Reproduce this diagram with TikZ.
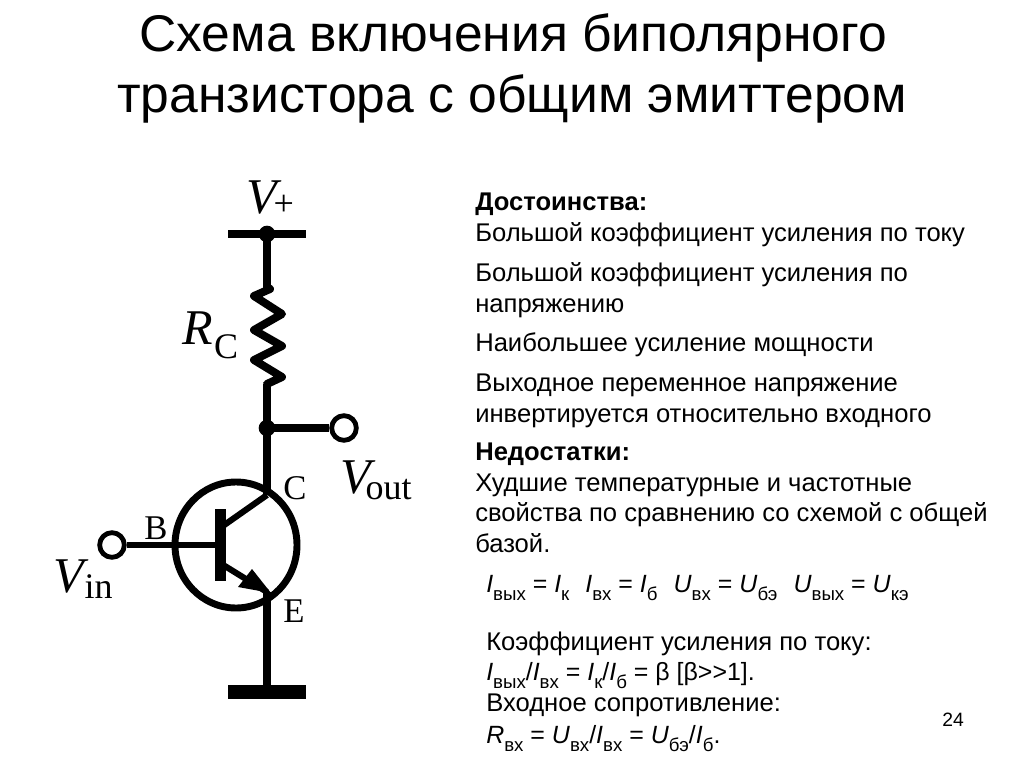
\documentclass[tikz,border=0pt]{standalone}
\usepackage{fontspec}
\usetikzlibrary{shapes.geometric}
\setmainfont{Liberation Sans}
\newfontfamily\ser{Liberation Serif}
\newcommand{\fsz}[1]{\fontsize{#1}{#1}\selectfont}
\newcommand{\lowtxt}[1]{\raisebox{-0.65ex}{\fsz{14}#1}}
\newcommand{\itx}[1]{\textit{#1}}
\newcommand{\lowsym}[1]{\raisebox{-5.2pt}{\fsz{27}#1}}
\tikzset{
  titletext/.style={anchor=base,inner sep=0pt,font=\fsz{38.7}},
  bodytext/.style={anchor=base west,inner sep=0pt,font=\fsz{19.2}},
  lowertext/.style={anchor=base west,inner sep=0pt,font=\fsz{18.7}},
  bigsym/.style={anchor=base west,inner sep=0pt,font=\ser\fsz{37.5}},
  pinsym/.style={anchor=base west,inner sep=0pt,font=\ser\fsz{26}},
  wire/.style={line width=6pt},
  thinwire/.style={line width=4.6pt},
  terminal/.style={circle,draw,line width=3.6pt,fill=white,minimum size=18.5pt,inner sep=0pt},
  junction/.style={circle,fill=black,minimum size=12.5pt,inner sep=0pt},
}
\begin{document}
\begin{tikzpicture}[x=0.75pt,y=-0.75pt]
\fill[white] (0,0) rectangle (1024,767);
\useasboundingbox (0,0) rectangle (1024,767);
% title
\node[titletext] (t1) at (513,52) {Схема включения биполярного};
\node[titletext] (t2) at (512,113) {транзистора с общим эмиттером};
% circuit coordinates
\coordinate (barL) at (228,234);
\coordinate (barR) at (306,234);
\coordinate (rtop) at (267,287);
\coordinate (rbot) at (267,384);
\coordinate (cpin) at (267,495);
\coordinate (epin) at (267,592);
\coordinate (gnd) at (267,692);
\coordinate (gndL) at (228,692);
\coordinate (gndR) at (306,692);
\coordinate (bbar) at (220.5,545);
\coordinate (bbarT) at (220.5,509);
\coordinate (bbarB) at (220.5,581);
\coordinate (cbase) at (220,528);
\coordinate (ebase) at (220,563);
\coordinate (etip) at (271,593);
\node[junction] (vplus) at (267,234) {};
\node[junction] (vmid) at (267,428) {};
\node[terminal] (vout) at (344,428) {};
\node[terminal] (vin) at (112,545) {};
\node[ellipse,draw,line width=5.2pt,minimum width=91.5pt,minimum height=94.5pt,inner sep=0pt] (q) at (236,545) {};
\draw[wire] (barL) -- (barR);
\draw[wire] (vplus.center) -- (rtop);
\draw[wire,line join=round,line cap=round] (rtop) -- (270,289) -- (254,296) -- (282,314) -- (254,330) -- (282,346) -- (254,360) -- (282,377) -- (rbot);
\draw[wire] (rbot) -- (vmid.center);
\draw[wire] (vmid.center) -- (cpin);
\draw[wire] (vmid.center) -- (vout);
\draw[thinwire] (vin) -- (bbar);
\draw[line width=8.2pt] (bbarT) -- (bbarB);
\draw[thinwire] (cbase) -- (cpin);
\draw[thinwire] (ebase) -- (epin);
\fill (etip) -- (252,569) -- (238,587) -- cycle;
\draw[wire] (epin) -- (gnd);
\draw[line width=11pt] (gndL) -- (gndR);
% circuit labels
\node[bigsym] (lvp) at (246,213) {\itx{V}\hspace{-6pt}\raisebox{-1.5pt}{\fsz{27}+}};
\node[bigsym] (lrc) at (182,344) {\itx{R}\hspace{1pt}\raisebox{-11pt}{\fsz{27}C}};
\node[bigsym] (lvo) at (340,493) {\itx{V}\hspace{-7.5pt}\lowsym{out}};
\node[bigsym] (lvi) at (53,592) {\itx{V}\hspace{-3pt}\lowsym{in}};
\node[pinsym] (lc) at (283,499) {C};
\node[pinsym] (lb) at (144,539) {B};
\node[pinsym] (le) at (283,622) {E};
% text
\node[bodytext] (a1) at (475,210) {\textbf{Достоинства:}};
\node[bodytext] (a2) at (475,241) {Большой коэффициент усиления по току};
\node[bodytext] (a3) at (475,281) {Большой коэффициент усиления по};
\node[bodytext] (a4) at (475,312) {напряжению};
\node[bodytext] (a5) at (475,351) {Наибольшее усиление мощности};
\node[bodytext] (a6) at (475,391) {Выходное переменное напряжение};
\node[bodytext] (a7) at (475,422) {инвертируется относительно входного};
\node[bodytext] (b1) at (475,460) {\textbf{Недостатки:}};
\node[bodytext] (b2) at (475,491) {Худшие температурные и частотные};
\node[bodytext] (b3) at (475,521) {свойства по сравнению со схемой с общей};
\node[bodytext] (b4) at (475,552) {базой.};
\node[lowertext] (f1) at (486,592) {\itx{I}\lowtxt{вых} = \itx{I}\lowtxt{к}\hspace{12pt}\itx{I}\lowtxt{вх} = \itx{I}\lowtxt{б}\hspace{12pt}\itx{U}\lowtxt{вх} = \itx{U}\lowtxt{бэ}\hspace{12pt}\itx{U}\lowtxt{вых} = \itx{U}\lowtxt{кэ}};
\node[bodytext] (f2) at (486,650) {Коэффициент усиления по току:};
\node[lowertext] (f3) at (486,680) {\itx{I}\lowtxt{вых}/\itx{I}\lowtxt{вх} = \itx{I}\lowtxt{к}/\itx{I}\lowtxt{б} = β [β>{}>1].};
\node[bodytext] (f4) at (486,711) {Входное сопротивление:};
\node[lowertext] (f5) at (486,743) {\itx{R}\lowtxt{вх} = \itx{U}\lowtxt{вх}/\itx{I}\lowtxt{вх} = \itx{U}\lowtxt{бэ}/\itx{I}\lowtxt{б}.};
\node[anchor=base west,inner sep=0pt,font=\fsz{14.5}] (pg) at (942,726) {24};
\end{tikzpicture}
\end{document}
